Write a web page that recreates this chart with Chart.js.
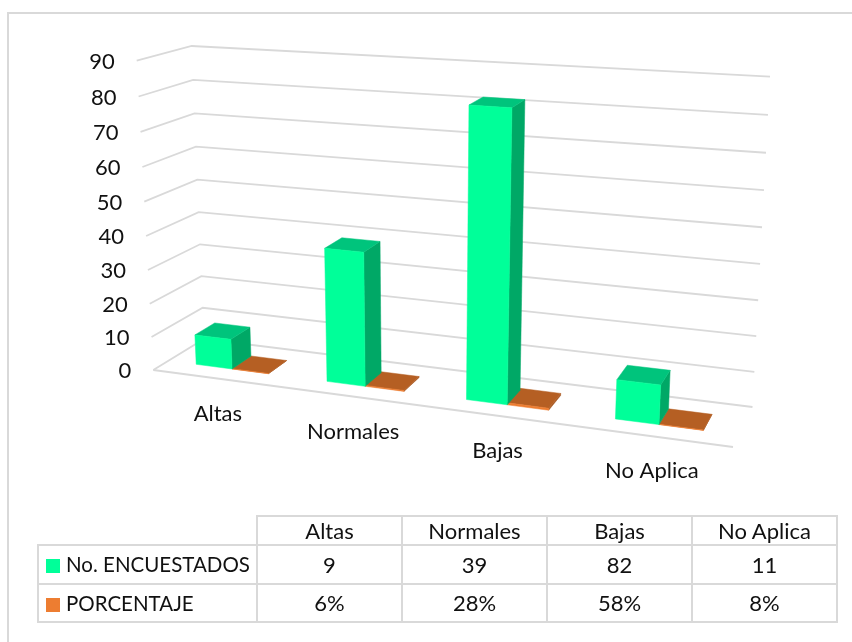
<!DOCTYPE html>
<html>
<head>
<meta charset="utf-8">
<script src="https://cdn.jsdelivr.net/npm/chart.js@4"></script>
<style>
    html, body { margin: 0; padding: 0; background: #fff; overflow: hidden; }
    #frame {
        position: absolute; left: 7px; top: 12px; width: 845px; height: 630px;
        border-left: 2px solid #d9d9d9; border-top: 2px solid #d9d9d9; box-sizing: border-box;
    }
    #chart { position: absolute; left: 0; top: 0; }
    #dataTable {
        position: absolute; left: 37px; top: 515px;
        border-collapse: collapse; table-layout: fixed;
        font: 22px Lato, sans-serif; color: #111;
    }
    #dataTable td { border: 2px solid #d9d9d9; text-align: center; padding: 0; }
    #dataTable td.blank { border-top: none; border-left: none; }
    #dataTable td.name { text-align: left; padding-left: 7px; white-space: nowrap; font-size: 20.5px; }
    .swatch { display: inline-block; width: 14px; height: 14px; margin-right: 6px; vertical-align: -1px; }
</style>
</head>
<body>
<div id="frame"></div>
<canvas id="chart" width="852" height="642"></canvas>
<table id="dataTable"></table>
<script>
const categories = ['Altas', 'Normales', 'Bajas', 'No Aplica'];
const encuestados = [9, 39, 82, 11];
const porcentaje = [0.06, 0.28, 0.58, 0.08];
const seriesNames = ['No. ENCUESTADOS', 'PORCENTAJE'];
const yTicks = [0, 10, 20, 30, 40, 50, 60, 70, 80, 90];

const GREEN = { front: '#00ff99', side: '#00a866', top: '#00c47c' };
const ORANGE = { front: '#ed7d31', side: '#a85a24', top: '#b55f23' };
const GRID = '#d9d9d9';
const LABEL_FONT = '22px Lato, sans-serif';

// corners of the 3D box, [left/right][front/back][bottom/top]
const box = {
    lfb: [153.3, 370], lft: [136.7, 60.7],
    lbb: [204, 339], lbt: [191.7, 46],
    rfb: [733, 447], rft: [753, 98.4],
    rbb: [752.5, 407], rbt: [770, 76.7]
};
const PERSPECTIVE_X = 1.14;
const PERSPECTIVE_Y = 1.047;
const BAR_DEPTH = [0.3, 0.7];

function lerp(a, b, t) { return a + (b - a) * t; }
function warp(t, k) { return t / (t + k * (1 - t)); }

// maps chart pixels plus a depth (0 front, 1 back) to the tilted box
function project(chart, px, py, depth) {
    const a = chart.chartArea;
    const u = warp((px - a.left) / (a.right - a.left), PERSPECTIVE_X);
    const v = warp((a.bottom - py) / (a.bottom - a.top), PERSPECTIVE_Y);
    const out = [];
    for (let i = 0; i < 2; i++) {
        const front = lerp(lerp(box.lfb[i], box.rfb[i], u), lerp(box.lft[i], box.rft[i], u), v);
        const back = lerp(lerp(box.lbb[i], box.rbb[i], u), lerp(box.lbt[i], box.rbt[i], u), v);
        out.push(lerp(front, back, depth));
    }
    return out;
}

function fillFace(ctx, points, color) {
    ctx.beginPath();
    points.forEach((p, i) => i ? ctx.lineTo(p[0], p[1]) : ctx.moveTo(p[0], p[1]));
    ctx.closePath();
    ctx.fillStyle = color;
    ctx.fill();
    ctx.strokeStyle = color;
    ctx.lineWidth = 0.5;
    ctx.stroke();
}

function strokePath(ctx, points) {
    ctx.beginPath();
    points.forEach((p, i) => i ? ctx.lineTo(p[0], p[1]) : ctx.moveTo(p[0], p[1]));
    ctx.stroke();
}

const walls = {
    id: 'walls',
    beforeDatasetsDraw(chart) {
        const { ctx, scales: { x, y }, chartArea: a } = chart;
        ctx.save();
        ctx.strokeStyle = GRID;
        ctx.lineWidth = 1.8;
        y.ticks.forEach(tick => {
            const py = y.getPixelForValue(tick.value);
            strokePath(ctx, [project(chart, a.left, py, 0), project(chart, a.left, py, 1), project(chart, a.right, py, 1)]);
        });
        strokePath(ctx, [project(chart, a.left, a.bottom, 0), project(chart, a.right, a.bottom, 0)]);

        // tick labels follow the slanted edges of the box
        ctx.font = LABEL_FONT;
        ctx.fillStyle = '#111';
        ctx.textBaseline = 'middle';
        ctx.textAlign = 'right';
        y.ticks.forEach(tick => {
            const p = project(chart, a.left, y.getPixelForValue(tick.value), 0);
            ctx.fillText(tick.label, p[0] - 22, p[1] + 1);
        });
        ctx.textAlign = 'center';
        categories.forEach((name, i) => {
            const p = project(chart, x.getPixelForValue(i), a.bottom, 0);
            ctx.fillText(name, p[0], p[1] + 35);
        });
        ctx.restore();
    },
    // each bar keeps the x, y, base and width the library gave it and is drawn as a block
    beforeDatasetDraw(chart, args) {
        const { ctx } = chart;
        const colors = args.index === 0 ? GREEN : ORANGE;
        ctx.save();
        args.meta.data.forEach(bar => {
            const x0 = bar.x - bar.width / 2;
            const x1 = bar.x + bar.width / 2;
            const [d0, d1] = BAR_DEPTH;
            const p = (px, py, d) => project(chart, px, py, d);
            fillFace(ctx, [p(x1, bar.base, d0), p(x1, bar.base, d1), p(x1, bar.y, d1), p(x1, bar.y, d0)], colors.side);
            fillFace(ctx, [p(x0, bar.y, d0), p(x1, bar.y, d0), p(x1, bar.y, d1), p(x0, bar.y, d1)], colors.top);
            fillFace(ctx, [p(x0, bar.base, d0), p(x1, bar.base, d0), p(x1, bar.y, d0), p(x0, bar.y, d0)], colors.front);
        });
        ctx.restore();
        return false;
    }
};

new Chart(document.getElementById('chart'), {
    type: 'bar',
    data: {
        labels: categories,
        datasets: [
            { label: seriesNames[0], data: encuestados, backgroundColor: GREEN.front, categoryPercentage: 0.56, barPercentage: 1 },
            { label: seriesNames[1], data: porcentaje, backgroundColor: ORANGE.front, categoryPercentage: 0.56, barPercentage: 1 }
        ]
    },
    options: {
        responsive: false,
        animation: false,
        layout: { padding: { left: 153, right: 119, top: 60, bottom: 272 } },
        plugins: { legend: { display: false }, tooltip: { enabled: false } },
        scales: {
            x: { display: false },
            y: {
                display: false,
                min: 0,
                max: 90,
                afterBuildTicks(scale) { scale.ticks = yTicks.map(v => ({ value: v, label: String(v) })); }
            }
        }
    },
    plugins: [walls]
});

// data table under the chart
function addRow(cells, firstClass, swatch) {
    const row = document.getElementById('dataTable').insertRow();
    cells.forEach((text, i) => {
        const cell = row.insertCell();
        cell.textContent = text;
        if (i === 0 && firstClass) cell.className = firstClass;
    });
    if (swatch) {
        const mark = document.createElement('span');
        mark.className = 'swatch';
        mark.style.background = swatch;
        row.cells[0].prepend(mark);
    }
    return row;
}

const colWidths = [219, 145, 145, 145, 145];
const table = document.getElementById('dataTable');
const colgroup = document.createElement('colgroup');
colWidths.forEach(w => {
    const col = document.createElement('col');
    col.style.width = w + 'px';
    colgroup.appendChild(col);
});
table.appendChild(colgroup);
addRow([''].concat(categories), 'blank').style.height = '29px';
addRow([seriesNames[0]].concat(encuestados.map(String)), 'name', GREEN.front).style.height = '38.5px';
addRow([seriesNames[1]].concat(porcentaje.map(v => Math.round(v * 100) + '%')), 'name', ORANGE.front).style.height = '38.5px';
</script>
</body>
</html>
